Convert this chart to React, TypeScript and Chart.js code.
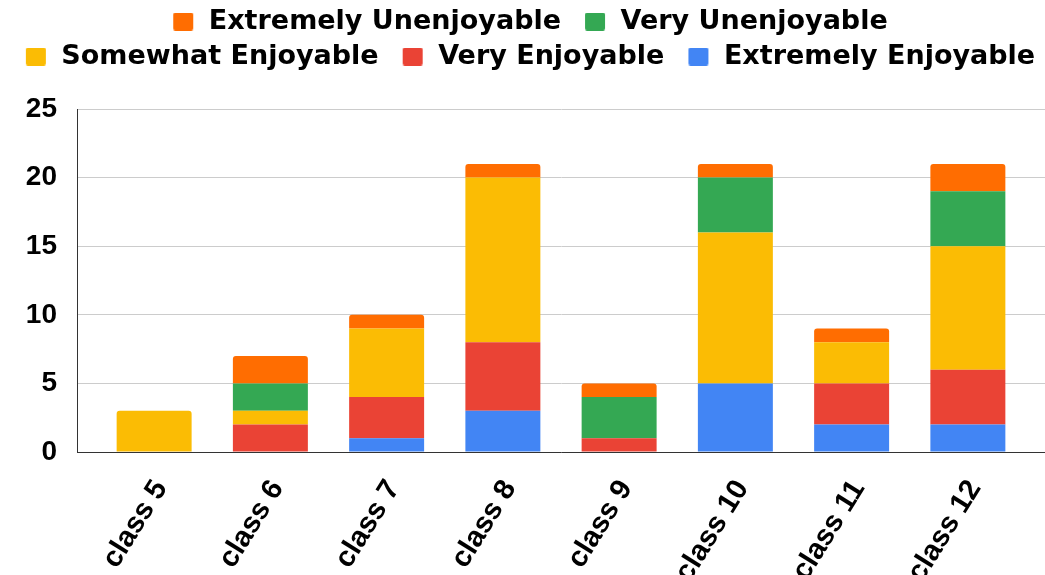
import React, { useEffect, useRef } from "react";
import { Chart, registerables } from "chart.js";

Chart.register(...registerables);

// ---- data ----
const categories = ["class 5", "class 6", "class 7", "class 8", "class 9", "class 10", "class 11", "class 12"];
const extremelyEnjoyable = [0, 0, 1, 3, 0, 5, 2, 2];
const veryEnjoyable = [0, 2, 3, 5, 1, 0, 3, 4];
const somewhatEnjoyable = [3, 1, 5, 12, 0, 11, 3, 9];
const veryUnenjoyable = [0, 2, 0, 0, 3, 4, 0, 4];
const extremelyUnenjoyable = [0, 2, 1, 1, 1, 1, 1, 2];
const yTicks = [0, 5, 10, 15, 20, 25];

const seriesNames = [
  "Extremely Enjoyable",
  "Very Enjoyable",
  "Somewhat Enjoyable",
  "Very Unenjoyable",
  "Extremely Unenjoyable",
];
const seriesValues = [extremelyEnjoyable, veryEnjoyable, somewhatEnjoyable, veryUnenjoyable, extremelyUnenjoyable];
const seriesColors = ["#4285F4", "#EA4335", "#FBBC04", "#34A853", "#FF6D01"];

// ---- layout constants ----
const X_PAD = 0.6635;
const LEGEND_GAP = 29;
const ARIAL = '"Liberation Sans", Arial, sans-serif';
const MARKER_SLOT = 38;
const MARKER_W = 20;
const MARKER_H = 18;
const MARKER_RIGHT = 2;

const legendGap = {
  id: "legendGap",
  beforeInit(chart: any) {
    const legend = chart.legend;
    if (!legend) return;
    const origFit = legend.fit;
    legend.fit = function () {
      origFit.call(this);
      this.height += LEGEND_GAP;
    };
  },
};

function makeMarker(color: string) {
  const c = document.createElement("canvas");
  c.width = MARKER_SLOT;
  c.height = MARKER_H;
  const g = c.getContext("2d") as CanvasRenderingContext2D;
  g.fillStyle = color;
  const x0 = MARKER_SLOT - MARKER_RIGHT - MARKER_W;
  g.beginPath();
  if ((g as any).roundRect) {
    (g as any).roundRect(x0, 0, MARKER_W, MARKER_H, 2);
  } else {
    g.rect(x0, 0, MARKER_W, MARKER_H);
  }
  g.fill();
  return c;
}

export default function App() {
  const ref = useRef<HTMLCanvasElement>(null);

  useEffect(() => {
    const markers = seriesColors.map(makeMarker);

    const datasets = seriesNames.map((name, k) => ({
      label: name,
      data: seriesValues[k].map((v, i) => ({ x: i, y: v })),
      backgroundColor: seriesColors[k],
      borderWidth: 0,
      borderRadius: 3,
      categoryPercentage: 1,
      barPercentage: 0.645,
    }));

    const chart = new Chart(ref.current as HTMLCanvasElement, {
      type: "bar",
      data: { datasets },
      plugins: [legendGap],
      options: {
        animation: false,
        responsive: true,
        maintainAspectRatio: false,
        layout: { padding: 0 },
        plugins: {
          tooltip: { enabled: false },
          legend: {
            position: "top",
            reverse: true,
            labels: {
              font: { family: '"DejaVu Sans", sans-serif', size: 27, weight: "bold" },
              color: "#000",
              usePointStyle: true,
              pointStyleWidth: MARKER_SLOT,
              boxHeight: MARKER_H,
              padding: 8,
              generateLabels: (ch: any) => {
                const items = (Chart as any).defaults.plugins.legend.labels.generateLabels(ch);
                items.forEach((it: any) => {
                  it.pointStyle = markers[it.datasetIndex];
                });
                return items;
              },
            },
          },
        },
        scales: {
          x: {
            type: "linear",
            stacked: true,
            offset: false,
            min: -X_PAD,
            max: categories.length - 1 + X_PAD,
            afterBuildTicks: (scale: any) => {
              scale.ticks = categories.map((_, i) => ({ value: i }));
            },
            afterFit: (scale: any) => {
              scale.height = 123;
            },
            grid: { display: false },
            border: { display: true, color: "#333", width: 1 },
            ticks: {
              autoSkip: false,
              minRotation: 58,
              maxRotation: 58,
              padding: 14,
              labelOffset: 7,
              color: "#000",
              font: { family: ARIAL, size: 29, weight: "bold" },
              callback: (v: any) => categories[v] ?? "",
            },
          },
          y: {
            stacked: true,
            min: yTicks[0],
            max: yTicks[yTicks.length - 1],
            afterBuildTicks: (scale: any) => {
              scale.ticks = yTicks.map((v) => ({ value: v }));
            },
            afterFit: (scale: any) => {
              scale.width = 77;
            },
            grid: { color: "#cccccc", lineWidth: 1, drawTicks: false },
            border: { display: true, color: "#333", width: 1 },
            ticks: {
              padding: 20,
              color: "#000",
              font: { family: ARIAL, size: 28, weight: "bold" },
            },
          },
        },
      },
    } as any);

    return () => chart.destroy();
  }, []);

  return (
    <div style={{ position: "absolute", left: 0, top: 0, width: 1045, height: 575, background: "#fff" }}>
      <canvas ref={ref} />
    </div>
  );
}
